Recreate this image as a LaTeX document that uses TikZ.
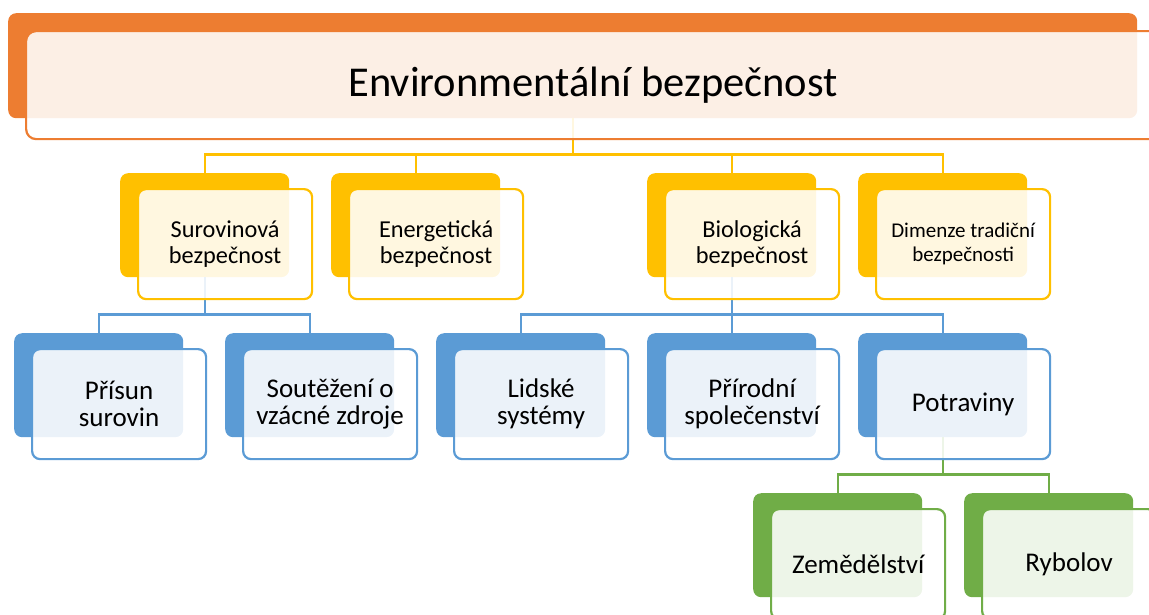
\documentclass[tikz,border=0pt]{standalone}
\usepackage{fontspec}
\setmainfont{Carlito}
\definecolor{cor}{HTML}{ED7D31}
\definecolor{cye}{HTML}{FFC000}
\definecolor{cbl}{HTML}{5B9BD5}
\definecolor{cgr}{HTML}{70AD47}
\tikzset{
  backbox/.style={fill=#1, draw=none, rounded corners=8pt, minimum width=169pt, minimum height=104pt, anchor=north west, inner sep=0pt},
  frontbox/.style={draw=#1, line width=2.2pt, fill=white, fill opacity=0.88, text opacity=1, rounded corners=8pt, minimum width=174pt, minimum height=110pt, anchor=north west, align=center, inner sep=0pt},
  conn/.style={draw=#1, line width=2.4pt},
  fy/.style={font=\fontsize{24.3}{26.5}\selectfont},
  fs/.style={font=\fontsize{21}{24}\selectfont},
  fb/.style={font=\fontsize{27}{27}\selectfont}
}
\begin{document}
\begin{tikzpicture}[x=1pt,y=-1pt]
\useasboundingbox (0,0) rectangle (1149,614);
\clip (0,0) rectangle (1149,614);
% back boxes
\node[backbox=cor, minimum width=1129pt, minimum height=105pt] (tB) at (8,13) {};
\node[backbox=cye] (s1B) at (120,173) {};
\node[backbox=cye] (s2B) at (331,173) {};
\node[backbox=cye] (s3B) at (647,173) {};
\node[backbox=cye] (s4B) at (858,173) {};
\node[backbox=cbl] (b1B) at (14,333) {};
\node[backbox=cbl] (b2B) at (225,333) {};
\node[backbox=cbl] (b3B) at (436,333) {};
\node[backbox=cbl] (b4B) at (647,333) {};
\node[backbox=cbl] (b5B) at (858,333) {};
\node[backbox=cgr] (g1B) at (753,493) {};
\node[backbox=cgr] (g2B) at (964,493) {};
% connectors
\foreach \c in {s1B,s2B,s3B,s4B}{\draw[conn=cye] (tB.south) -- ++(0,-36pt) -| (\c.north);}
\foreach \c in {b1B,b2B}{\draw[conn=cbl] (s1B.south) -- ++(0,-37pt) -| (\c.north);}
\foreach \c in {b3B,b4B,b5B}{\draw[conn=cbl] (s3B.south) -- ++(0,-37pt) -| (\c.north);}
\foreach \c in {g1B,g2B}{\draw[conn=cgr] (b5B.south) -- ++(0,-37pt) -| (\c.north);}
% front boxes
\node[frontbox=cor, minimum width=1134pt, minimum height=108pt, font=\fontsize{42.5}{48}\selectfont, rounded corners=10pt] (t) at (25,30) {Environmentální bezpečnost};
\node[frontbox=cye, fy] (s1) at (137,188) {Surovinová\\bezpečnost};
\node[frontbox=cye, fy] (s2) at (348,188) {Energetická\\bezpečnost};
\node[frontbox=cye, fy] (s3) at (664,188) {Biologická\\bezpečnost};
\node[frontbox=cye, fs] (s4) at (875,188) {Dimenze tradiční\\bezpečnosti};
\node[frontbox=cbl, fb] (b1) at (31,348) {Přísun\\surovin};
\node[frontbox=cbl, fb] (b2) at (242,348) {Soutěžení o\\vzácné zdroje};
\node[frontbox=cbl, fb] (b3) at (453,348) {Lidské\\systémy};
\node[frontbox=cbl, fb] (b4) at (664,348) {Přírodní\\společenství};
\node[frontbox=cbl, fb] (b5) at (875,348) {Potraviny};
\node[frontbox=cgr, fb] (g1) at (770,508) {Zemědělství};
\node[frontbox=cgr, fb] (g2) at (981,508) {Rybolov};
\end{tikzpicture}
\end{document}
